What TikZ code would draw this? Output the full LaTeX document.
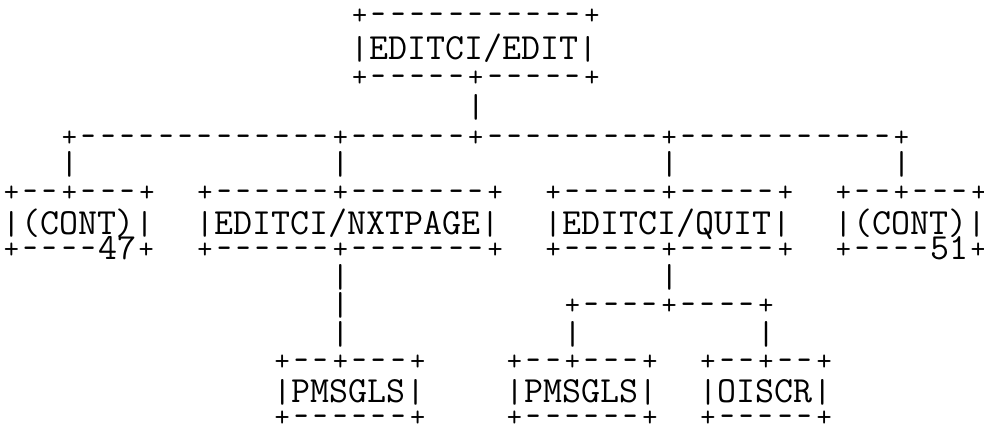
\documentclass[tikz,border=0pt]{standalone}
\usepackage{tikz}
% one cell of the ascii chart: short dash, small plus, bar
\newcommand\dsh{\makebox[0.525em]{\scalebox{0.75}[1]{-}}}
\newcommand\pls{\makebox[0.525em]{\raisebox{0.05em}{\scalebox{0.8}{+}}}}
\newcommand\br{\makebox[0.525em]{\raisebox{0.025em}{\scalebox{1}[0.9]{|}}}}
\newcommand\dashes[1]{\foreach\n in {1,...,#1}{\dsh}}
\begin{document}
\begin{tikzpicture}[x=9.675pt,y=-0.5pt,
    asc/.style={inner sep=0pt,anchor=base west,text height=0.5em,text depth=0pt,
      font=\ttfamily\fontsize{18.43}{20}\selectfont}]
  \useasboundingbox (-0.0685,0) rectangle (50.785,433);
  % top box
  \node[asc] (edit-t) at (18,26) {\pls\dashes{11}\pls};
  \node[asc] (edit)   at (18,60) {\br EDITCI/EDIT\br};
  \node[asc] (edit-b) at (18,88) {\pls\dashes{5}\pls\dashes{5}\pls};
  \node[asc] (v0) at (24,118) {\br};
  \node[asc] (bus) at (3,148) {\pls\dashes{13}\pls\dashes{6}\pls\dashes{9}\pls\dashes{11}\pls};
  \foreach \c/\nm in {3/v1,17/v2,34/v3,46/v4}
    \node[asc] (\nm) at (\c,175) {\br};
  % second level
  \node[asc] (contl-t) at (0,203)  {\pls\dashes{2}\pls\dashes{3}\pls};
  \node[asc] (contl)   at (0,235)  {\br(CONT)\br};
  \node[asc] (contl-b) at (0,260)  {\pls\dashes{4}47\pls};
  \node[asc] (nxt-t) at (10,203) {\pls\dashes{6}\pls\dashes{7}\pls};
  \node[asc] (nxt)   at (10,235) {\br EDITCI/NXTPAGE\br};
  \node[asc] (nxt-b) at (10,260) {\pls\dashes{6}\pls\dashes{7}\pls};
  \node[asc] (quit-t) at (28,203) {\pls\dashes{5}\pls\dashes{5}\pls};
  \node[asc] (quit)   at (28,235) {\br EDITCI/QUIT\br};
  \node[asc] (quit-b) at (28,260) {\pls\dashes{5}\pls\dashes{5}\pls};
  \node[asc] (contr-t) at (43,203) {\pls\dashes{2}\pls\dashes{3}\pls};
  \node[asc] (contr)   at (43,235) {\br(CONT)\br};
  \node[asc] (contr-b) at (43,260) {\pls\dashes{4}51\pls};
  % links down
  \foreach \c/\r/\nm in {17/288/v5,34/288/v6,17/316/v7,17/345/v8,29/345/v9,39/345/v10}
    \node[asc] (\nm) at (\c,\r) {\br};
  \node[asc] (qbus) at (29,316) {\pls\dashes{4}\pls\dashes{4}\pls};
  % third level
  \node[asc] (pms1-t) at (14,372) {\pls\dashes{2}\pls\dashes{3}\pls};
  \node[asc] (pms1)   at (14,403) {\br PMSGLS\br};
  \node[asc] (pms1-b) at (14,428) {\pls\dashes{6}\pls};
  \node[asc] (pms2-t) at (26,372) {\pls\dashes{2}\pls\dashes{3}\pls};
  \node[asc] (pms2)   at (26,403) {\br PMSGLS\br};
  \node[asc] (pms2-b) at (26,428) {\pls\dashes{6}\pls};
  \node[asc] (ois-t) at (36,372) {\pls\dashes{2}\pls\dashes{2}\pls};
  \node[asc] (ois)   at (36,403) {\br OISCR\br};
  \node[asc] (ois-b) at (36,428) {\pls\dashes{5}\pls};
\end{tikzpicture}
\end{document}
